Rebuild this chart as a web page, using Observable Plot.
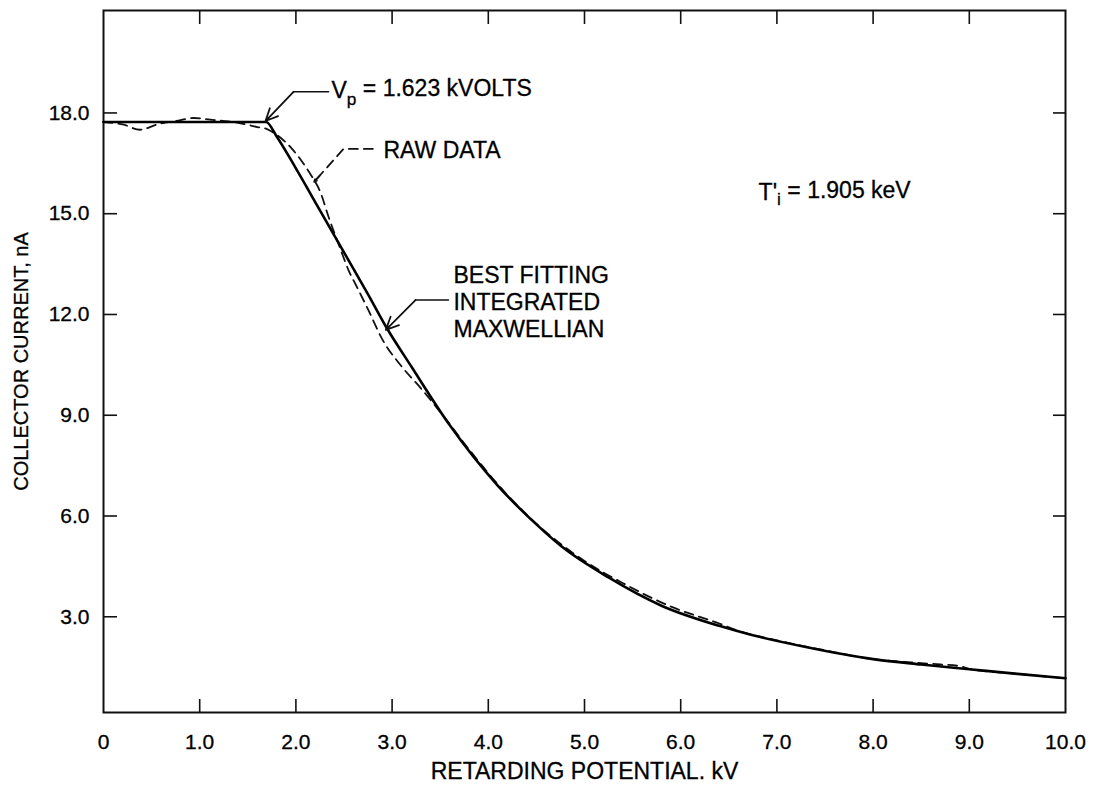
<!DOCTYPE html>
<html><head><meta charset="utf-8">
<script src="https://cdn.jsdelivr.net/npm/d3@7"></script>
<script src="https://cdn.jsdelivr.net/npm/@observablehq/plot@0.6"></script>
<style>body{margin:0;background:#fff}#chart{width:1099px;height:785px}
#chart svg text{stroke:#000;stroke-width:0.3px}</style>
</head><body><div id="chart"></div>
<script>
// Axis ticks
const xTicks = [0, 1, 2, 3, 4, 5, 6, 7, 8, 9, 10];
const yTicks = [3, 6, 9, 12, 15, 18];

// Best fitting integrated Maxwellian (solid)
const fitX = [0, 1.69, 1.8, 2.0, 2.25, 2.5, 2.75, 2.94, 3.2, 3.6, 4.1, 4.5, 4.75, 5.25, 5.8, 6.4, 6.75, 7.3, 8.0, 8.5, 9.0, 9.5, 10.0];
const fitY = [17.73, 17.73, 17.3, 16.35, 15.1, 13.85, 12.6, 11.62, 10.45, 8.7, 6.9, 5.75, 5.12, 4.17, 3.33, 2.73, 2.45, 2.1, 1.74, 1.58, 1.44, 1.3, 1.17];

// Raw data (dashed)
const rawX = [0, 0.2, 0.38, 0.57, 0.75, 0.94, 1.11, 1.3, 1.46, 1.6, 1.7, 1.79, 1.96, 2.13, 2.26, 2.34, 2.45, 2.55, 2.62, 2.75, 2.9, 3.1, 3.3, 3.5, 3.8, 4.2, 4.6, 5.0, 5.4, 5.9, 6.4, 6.6, 7.0, 7.5, 8.0, 8.5, 8.7, 8.9, 9.0, 9.5, 10.0];
const rawY = [17.73, 17.66, 17.5, 17.67, 17.76, 17.85, 17.8, 17.75, 17.67, 17.58, 17.52, 17.37, 16.93, 16.27, 15.6, 14.9, 14.05, 13.3, 12.9, 12.15, 11.25, 10.45, 9.8, 9.1, 7.98, 6.62, 5.52, 4.66, 4.0, 3.3, 2.8, 2.58, 2.3, 2.0, 1.74, 1.62, 1.58, 1.53, 1.45, 1.3, 1.17];

// Annotation texts and anchor points (data units)
const vpLabel = {x: 2.37, y: 18.65, text: "Vp = 1.623 kVOLTS"};
const vpLeader = [{x: 2.34, y: 18.63}, {x: 1.975, y: 18.63}];
const vpArrow = {x1: 1.975, y1: 18.63, x2: 1.684, y2: 17.76};

const rawLabel = {x: 2.91, y: 16.87, text: "RAW DATA"};
const rawLeader = [{x: 2.80, y: 16.93}, {x: 2.495, y: 16.93}, {x: 2.19, y: 15.95}];
const rawArrow = {x1: 2.25, y1: 16.14, x2: 2.19, y2: 15.95};

const fitLabel = {x: 3.638, y: 12.39, text: "BEST FITTING\nINTEGRATED\nMAXWELLIAN"};
const fitLeader = [{x: 3.586, y: 12.43}, {x: 3.243, y: 12.43}];
const fitArrow = {x1: 3.243, y1: 12.43, x2: 2.935, y2: 11.54};

const tiLabel = {x: 6.81, y: 15.63, text: "T'i = 1.905 keV"};

const fit = fitX.map((x, i) => ({x, y: fitY[i]}));
const raw = rawX.map((x, i) => ({x, y: rawY[i]}));

const plotW = 1099 - 103 - 34, plotH = 785 - 10 - 73;
const fmt = d => d === 0 ? "0" : d.toFixed(1);

const chart = Plot.plot({
  width: 1099, height: 785,
  marginLeft: 103, marginRight: 34, marginTop: 10, marginBottom: 73,
  style: {fontFamily: "'Liberation Sans', Arial, sans-serif", fontSize: "21px", color: "#000", background: "#fff"},
  x: {domain: [0, 10]},
  y: {domain: [0.15, 21.05]},
  marks: [
    Plot.axisX({ticks: xTicks, tickFormat: fmt, tickSize: 0, tickPadding: 22, fontSize: 21,
      label: "RETARDING POTENTIAL. kV", labelAnchor: "center", labelArrow: "none", labelOffset: 66}),
    Plot.axisY({ticks: yTicks, tickFormat: fmt, tickSize: 0, tickPadding: 14, fontSize: 21,
      label: "COLLECTOR CURRENT, nA", labelAnchor: "center", labelArrow: "none", labelOffset: 90}),
    Plot.frame({stroke: "#111", strokeWidth: 2}),
    Plot.tickX(xTicks.slice(1, -1), {x: d => d, insetTop: plotH - 13, stroke: "#111", strokeWidth: 1.6}),
    Plot.tickX(xTicks.slice(1, -1), {x: d => d, insetBottom: plotH - 14, stroke: "#111", strokeWidth: 1.6}),
    Plot.tickY(yTicks, {y: d => d, insetRight: plotW - 14, stroke: "#111", strokeWidth: 1.6}),
    Plot.tickY(yTicks, {y: d => d, insetLeft: plotW - 12, stroke: "#111", strokeWidth: 1.6}),
    Plot.line(raw, {x: "x", y: "y", stroke: "#111", strokeWidth: 1.8, strokeDasharray: "9,6", curve: "monotone-x"}),
    Plot.line(fit, {x: "x", y: "y", stroke: "#000", strokeWidth: 2.6, curve: "monotone-x"}),
    // annotations
    Plot.line(vpLeader, {x: "x", y: "y", stroke: "#111", strokeWidth: 1.6}),
    Plot.arrow([vpArrow], {x1: "x1", y1: "y1", x2: "x2", y2: "y2", stroke: "#111", strokeWidth: 1.8, headLength: 15, headAngle: 50}),
    Plot.line(rawLeader, {x: "x", y: "y", stroke: "#111", strokeWidth: 1.8, strokeDasharray: "9,6"}),
    Plot.arrow([rawArrow], {x1: "x1", y1: "y1", x2: "x2", y2: "y2", stroke: "#111", strokeWidth: 1.8, headLength: 15, headAngle: 50}),
    Plot.line(fitLeader, {x: "x", y: "y", stroke: "#111", strokeWidth: 1.6}),
    Plot.arrow([fitArrow], {x1: "x1", y1: "y1", x2: "x2", y2: "y2", stroke: "#111", strokeWidth: 1.8, headLength: 15, headAngle: 50}),
    Plot.text([vpLabel, rawLabel, tiLabel], {x: "x", y: "y", text: "text", textAnchor: "start", fontSize: 23, fill: "#000"}),
    Plot.text([fitLabel], {x: "x", y: "y", text: "text", textAnchor: "start", lineAnchor: "middle", lineHeight: 1.18, fontSize: 23, fill: "#000"})
  ]
});

// axis title sizes
d3.select(chart).select('g[aria-label="x-axis label"]').attr("font-size", 23);
d3.select(chart).select('g[aria-label="y-axis label"]').attr("font-size", 20);

// subscripts
d3.select(chart).selectAll("text").each(function() {
  const t = this.textContent;
  const s = d3.select(this);
  if (t === vpLabel.text) {
    this.textContent = "";
    s.append("tspan").text("V");
    s.append("tspan").attr("dy", "0.35em").attr("font-size", "0.75em").text("p");
    s.append("tspan").attr("dy", "-0.35em").text(" = 1.623 kVOLTS");
  } else if (t === tiLabel.text) {
    this.textContent = "";
    s.append("tspan").text("T'");
    s.append("tspan").attr("dy", "0.3em").attr("font-size", "0.75em").text("i");
    s.append("tspan").attr("dy", "-0.3em").text(" = 1.905 keV");
  }
});
document.getElementById("chart").appendChild(chart);
</script>
</body></html>
